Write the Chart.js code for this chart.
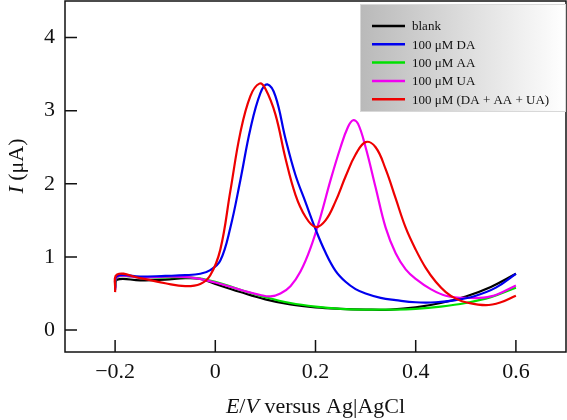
<!DOCTYPE html>
<html>
<head>
<meta charset="utf-8">
<script src="https://cdn.jsdelivr.net/npm/chart.js@4/dist/chart.umd.min.js"></script>
<style>
  html, body { margin: 0; padding: 0; background: #fff; }
</style>
</head>
<body>
<canvas id="c" width="567" height="420"></canvas>
<script>
// axis ticks
const xTicks = [-0.2, 0, 0.2, 0.4, 0.6];
const yTicks = [0, 1, 2, 3, 4];

// series labels
const labels = ['blank', '100 μM DA', '100 μM AA', '100 μM UA', '100 μM (DA + AA + UA)'];

// blank
const blankE = [-0.2, -0.196, -0.15, -0.1, -0.06, -0.03, 0, 0.05, 0.1, 0.15, 0.2, 0.25, 0.3, 0.35, 0.4, 0.45, 0.5, 0.55, 0.6];
const blankI = [0.58, 0.69, 0.68, 0.69, 0.71, 0.70, 0.63, 0.52, 0.42, 0.35, 0.31, 0.29, 0.28, 0.28, 0.31, 0.37, 0.46, 0.59, 0.77];

// 100 uM DA
const daE = [-0.2, -0.196, -0.15, -0.1, -0.06, -0.03, -0.01, 0.01, 0.03, 0.05, 0.07, 0.09, 0.104, 0.12, 0.14, 0.16, 0.18, 0.2, 0.22, 0.24, 0.26, 0.28, 0.3, 0.33, 0.36, 0.4, 0.44, 0.48, 0.52, 0.56, 0.6];
const daI = [0.55, 0.74, 0.73, 0.74, 0.75, 0.77, 0.82, 0.95, 1.4, 2.05, 2.75, 3.24, 3.36, 3.2, 2.62, 2.12, 1.75, 1.38, 1.06, 0.81, 0.66, 0.56, 0.50, 0.44, 0.41, 0.38, 0.38, 0.41, 0.47, 0.58, 0.77];

// 100 uM AA
const aaE = [-0.2, -0.196, -0.15, -0.1, -0.05, 0, 0.05, 0.1, 0.15, 0.2, 0.25, 0.3, 0.35, 0.4, 0.45, 0.5, 0.55, 0.6];
const aaI = [0.6, 0.73, 0.72, 0.72, 0.72, 0.66, 0.55, 0.45, 0.37, 0.32, 0.29, 0.28, 0.28, 0.29, 0.32, 0.37, 0.45, 0.58];

// 100 uM UA
const uaE = [-0.2, -0.196, -0.15, -0.1, -0.05, 0, 0.05, 0.09, 0.11, 0.13, 0.15, 0.17, 0.19, 0.21, 0.23, 0.25, 0.265, 0.275, 0.285, 0.3, 0.32, 0.34, 0.36, 0.38, 0.4, 0.43, 0.46, 0.5, 0.55, 0.6];
const uaI = [0.56, 0.73, 0.72, 0.73, 0.72, 0.65, 0.55, 0.48, 0.46, 0.50, 0.60, 0.80, 1.12, 1.55, 2.05, 2.5, 2.78, 2.87, 2.82, 2.5, 1.95, 1.4, 1.05, 0.83, 0.70, 0.56, 0.47, 0.44, 0.46, 0.61];

// 100 uM (DA + AA + UA)
const mixE = [-0.2, -0.196, -0.15, -0.1, -0.06, -0.03, -0.01, 0.01, 0.03, 0.05, 0.07, 0.088, 0.1, 0.12, 0.14, 0.16, 0.18, 0.2, 0.22, 0.24, 0.26, 0.28, 0.3, 0.32, 0.34, 0.36, 0.38, 0.4, 0.42, 0.44, 0.46, 0.48, 0.5, 0.54, 0.57, 0.6];
const mixI = [0.52, 0.76, 0.71, 0.64, 0.60, 0.63, 0.75, 1.1, 1.9, 2.7, 3.2, 3.37, 3.3, 2.95, 2.35, 1.85, 1.55, 1.41, 1.5, 1.76, 2.1, 2.4, 2.57, 2.5, 2.2, 1.8, 1.4, 1.1, 0.85, 0.66, 0.52, 0.43, 0.38, 0.34, 0.38, 0.47];

const colors = ['#000000', '#0000ee', '#00e000', '#f000f0', '#ee0000'];
const drawOrder = [5, 2, 4, 3, 1];

const FONT = '"Liberation Serif", "Times New Roman", serif';

function pts(xs, ys) {
  return xs.map((x, i) => ({ x: x, y: ys[i] }));
}

const series = [pts(blankE, blankI), pts(daE, daI), pts(aaE, aaI), pts(uaE, uaI), pts(mixE, mixI)];

function fmt(v) {
  return v < 0 ? '\u2212' + Math.abs(v) : String(v);
}

// frame, inward ticks, axis titles, legend
const decor = {
  id: 'decor',
  afterDraw(chart) {
    const ctx = chart.ctx;
    const a = chart.chartArea;
    const xs = chart.scales.x, ys = chart.scales.y;
    ctx.save();
    ctx.strokeStyle = '#111';
    ctx.lineWidth = 1.5;
    ctx.strokeRect(a.left, a.top, a.right - a.left, a.bottom - a.top);
    ctx.beginPath();
    xTicks.forEach(v => {
      const p = xs.getPixelForValue(v);
      ctx.moveTo(p, a.bottom);
      ctx.lineTo(p, a.bottom - 12);
    });
    yTicks.forEach(v => {
      const p = ys.getPixelForValue(v);
      ctx.moveTo(a.left, p);
      ctx.lineTo(a.left + 12, p);
    });
    ctx.stroke();

    // axis titles with italic symbols
    function drawParts(parts, x, y) {
      let w = 0;
      parts.forEach(p => { ctx.font = p[1] + ' 22px ' + FONT; w += ctx.measureText(p[0]).width; });
      let cx = x - w / 2;
      parts.forEach(p => {
        ctx.font = p[1] + ' 22px ' + FONT;
        ctx.fillText(p[0], cx, y);
        cx += ctx.measureText(p[0]).width;
      });
    }
    ctx.fillStyle = '#111';
    ctx.textBaseline = 'alphabetic';
    ctx.textAlign = 'left';
    drawParts([['E', 'italic'], ['/', 'normal'], ['V', 'italic'], [' versus Ag|AgCl', 'normal']], (a.left + a.right) / 2, 413);
    ctx.save();
    ctx.translate(23, 166);
    ctx.rotate(-Math.PI / 2);
    drawParts([['I', 'italic'], [' (μA)', 'normal']], 0, 0);
    ctx.restore();

    // legend
    const lx = 360, ly = 4, lw = a.right - 360, lh = 108;
    const g = ctx.createLinearGradient(lx, 0, lx + lw, 0);
    g.addColorStop(0, '#b9b9b9');
    g.addColorStop(1, '#ffffff');
    ctx.fillStyle = g;
    ctx.fillRect(lx, ly, lw, lh);
    ctx.strokeStyle = '#d8d8d8';
    ctx.lineWidth = 1;
    ctx.strokeRect(lx + 0.5, ly + 0.5, lw - 1, lh - 1);
    ctx.font = '13px ' + FONT;
    ctx.textBaseline = 'middle';
    chart.data.datasets.forEach((ds, i) => {
      const y = 26 + i * 18.3;
      ctx.strokeStyle = ds.borderColor;
      ctx.lineWidth = 2.5;
      ctx.beginPath();
      ctx.moveTo(372, y);
      ctx.lineTo(405, y);
      ctx.stroke();
      ctx.fillStyle = '#111';
      ctx.fillText(ds.label, 412, y + 1);
    });
    ctx.restore();
  }
};

new Chart(document.getElementById('c').getContext('2d'), {
  type: 'line',
  data: {
    datasets: series.map((d, i) => ({
      label: labels[i],
      data: d,
      borderColor: colors[i],
      backgroundColor: colors[i],
      borderWidth: 2.2,
      pointRadius: 0,
      tension: 0.4,
      fill: false,
      order: drawOrder[i]
    }))
  },
  options: {
    responsive: false,
    animation: false,
    layout: { padding: { top: 1, right: 1, left: 0, bottom: 0 } },
    plugins: { legend: { display: false }, tooltip: { enabled: false } },
    scales: {
      x: {
        type: 'linear',
        min: -0.3,
        max: 0.7,
        afterBuildTicks: s => { s.ticks = xTicks.map(v => ({ value: v })); },
        afterFit: s => { s.height = 68; s.paddingLeft = 0; s.paddingRight = 0; },
        grid: { display: false, drawTicks: false },
        border: { display: false },
        ticks: { font: { family: FONT, size: 22 }, color: '#111', padding: 7, maxRotation: 0, callback: v => fmt(v) }
      },
      y: {
        type: 'linear',
        min: -0.3,
        max: 4.5,
        afterBuildTicks: s => { s.ticks = yTicks.map(v => ({ value: v })); },
        afterFit: s => { s.width = 65; s.paddingTop = 0; s.paddingBottom = 0; },
        grid: { display: false, drawTicks: false },
        border: { display: false },
        ticks: { font: { family: FONT, size: 22 }, color: '#111', padding: 10, callback: v => fmt(v) }
      }
    }
  },
  plugins: [decor]
});
</script>
</body>
</html>
